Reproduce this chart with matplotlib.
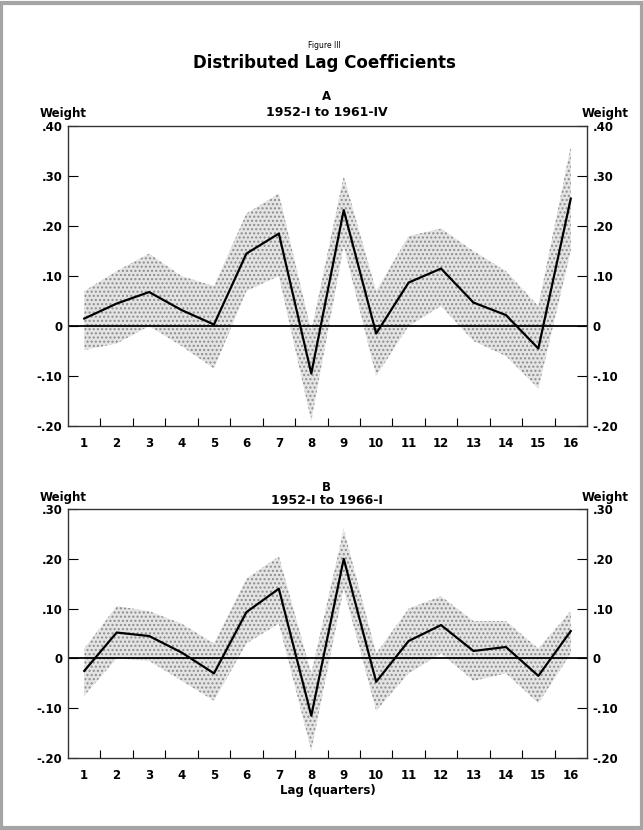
import matplotlib.pyplot as plt
import numpy as np
from matplotlib.patches import Rectangle

# data
lags = list(range(1, 17))

coef_a = [0.015, 0.045, 0.068, 0.032, 0.003, 0.145, 0.185, -0.095,
          0.232, -0.015, 0.087, 0.115, 0.047, 0.022, -0.045, 0.255]
upper_a = [0.07, 0.11, 0.145, 0.10, 0.08, 0.225, 0.265, -0.01,
           0.30, 0.07, 0.18, 0.195, 0.15, 0.11, 0.04, 0.36]
lower_a = [-0.048, -0.035, 0.0, -0.04, -0.085, 0.07, 0.10, -0.19,
           0.16, -0.10, 0.0, 0.04, -0.03, -0.06, -0.125, 0.15]

coef_b = [-0.025, 0.052, 0.045, 0.012, -0.03, 0.093, 0.14, -0.115,
          0.20, -0.047, 0.035, 0.067, 0.015, 0.023, -0.035, 0.055]
upper_b = [0.02, 0.105, 0.095, 0.07, 0.03, 0.16, 0.205, -0.03,
           0.26, 0.01, 0.10, 0.125, 0.075, 0.075, 0.02, 0.095]
lower_b = [-0.075, 0.0, -0.005, -0.045, -0.085, 0.03, 0.07, -0.185,
           0.14, -0.105, -0.03, 0.01, -0.045, -0.03, -0.09, 0.01]

yticks_a = [-0.2, -0.1, 0, 0.1, 0.2, 0.3, 0.4]
ylabels_a = ["-.20", "-.10", "0", ".10", ".20", ".30", ".40"]
yticks_b = [-0.2, -0.1, 0, 0.1, 0.2, 0.3]
ylabels_b = ["-.20", "-.10", "0", ".10", ".20", ".30"]

narrow = ["Liberation Sans Narrow", "DejaVu Sans"]

fig = plt.figure(figsize=(6.43, 8.3), dpi=100)
fig.patch.set_facecolor("white")

# grey page border
fig.patches.append(Rectangle((0.002, 0.002), 0.996, 0.994, transform=fig.transFigure,
                             fill=False, edgecolor="#a5a5a5", linewidth=3))


def panel(rect, coef, lo, hi, yt, yl, ymin, ymax):
    ax = fig.add_axes(rect)
    ax.fill_between(lags, lo, hi, facecolor="#e4e4e4", edgecolor="#8c8c8c",
                    hatch="....", linewidth=0)
    ax.axhline(0, color="black", linewidth=1.3)
    ax.plot(lags, coef, color="black", linewidth=1.6)
    ax.set_xlim(0.5, 16.5)
    ax.set_ylim(ymin, ymax)
    ax.set_yticks(yt)
    ax.set_yticklabels(yl, family=narrow, fontweight="bold", fontsize=8.5)
    ax.set_xticks(lags)
    ax.set_xticklabels([str(v) for v in lags], family=narrow, fontweight="bold", fontsize=8.5)
    ax.set_xticks(np.arange(1.5, 16, 1.0), minor=True)
    ax.tick_params(axis="x", which="major", length=0, pad=8)
    ax.tick_params(axis="x", which="minor", direction="in", length=6, width=0.8)
    ax.tick_params(axis="y", direction="in", length=7, width=0.8, pad=4,
                   right=True, labelright=True)
    for s in ax.spines.values():
        s.set_linewidth(1.0)
        s.set_color("#333333")
    return ax


axa = panel([0.1058, 0.4867, 0.8071, 0.3614], coef_a, lower_a, upper_a,
            yticks_a, ylabels_a, -0.2, 0.4)
axb = panel([0.1058, 0.0867, 0.8071, 0.300], coef_b, lower_b, upper_b,
            yticks_b, ylabels_b, -0.2, 0.3)

# titles
fig.text(0.505, 1 - 45 / 830, "Figure III", ha="center", va="center", fontsize=5.5)
fig.text(0.505, 1 - 63 / 830, "Distributed Lag Coefficients", ha="center", va="center",
         fontsize=12, fontweight="bold")

fig.text(0.508, 1 - 96 / 830, "A", ha="center", va="center", family=narrow,
         fontweight="bold", fontsize=8.5)
fig.text(0.508, 1 - 112 / 830, "1952-I to 1961-IV", ha="center", va="center",
         family=narrow, fontweight="bold", fontsize=9)
fig.text(0.062, 1 - 114 / 830, "Weight", ha="left", va="center", family=narrow,
         fontweight="bold", fontsize=8.5)
fig.text(0.977, 1 - 114 / 830, "Weight", ha="right", va="center", family=narrow,
         fontweight="bold", fontsize=8.5)

fig.text(0.508, 1 - 487 / 830, "B", ha="center", va="center", family=narrow,
         fontweight="bold", fontsize=8.5)
fig.text(0.508, 1 - 500 / 830, "1952-I to 1966-I", ha="center", va="center",
         family=narrow, fontweight="bold", fontsize=9)
fig.text(0.062, 1 - 497 / 830, "Weight", ha="left", va="center", family=narrow,
         fontweight="bold", fontsize=8.5)
fig.text(0.977, 1 - 497 / 830, "Weight", ha="right", va="center", family=narrow,
         fontweight="bold", fontsize=8.5)

fig.text(0.51, 1 - 790 / 830, "Lag (quarters)", ha="center", va="center", family=narrow,
         fontweight="bold", fontsize=8.5)

fig.savefig("out.png", dpi=100)
